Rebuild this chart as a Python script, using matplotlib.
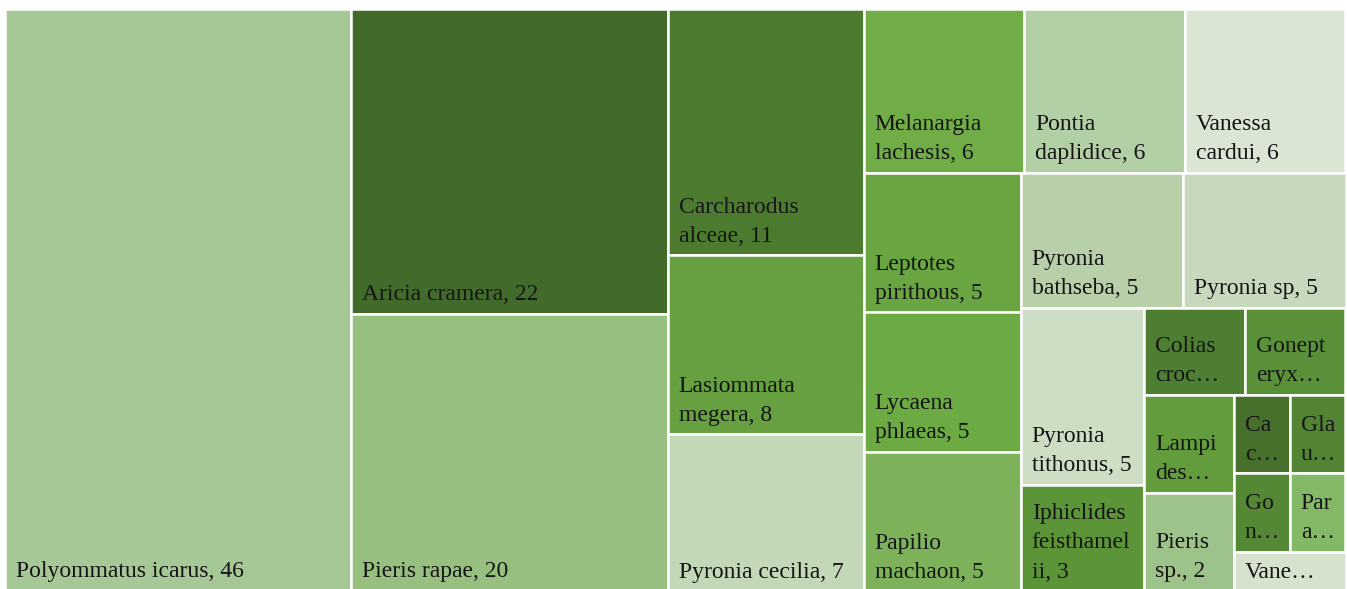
import matplotlib
matplotlib.use('Agg')
import matplotlib.pyplot as plt
from matplotlib.patches import Rectangle

# Виды бабочек и число наблюдений (по убыванию, как в treemap)
species = [
    'Polyommatus icarus', 'Aricia cramera', 'Pieris rapae', 'Carcharodus alceae',
    'Lasiommata megera', 'Pyronia cecilia', 'Melanargia lachesis', 'Pontia daplidice',
    'Vanessa cardui', 'Leptotes pirithous', 'Lycaena phlaeas', 'Papilio machaon',
    'Pyronia bathseba', 'Pyronia sp', 'Pyronia tithonus', 'Iphiclides feisthamelii',
    'Colias croceus', 'Gonepteryx rhamni', 'Lampides boeticus', 'Pieris sp.',
    'Cacyreus marshalli', 'Glaucopsyche alexis', 'Gonepteryx cleopatra',
    'Pararge aegeria', 'Vanessa atalanta',
]
counts = [46, 22, 20, 11, 8, 7, 6, 6, 6, 5, 5, 5, 5, 5, 5, 3, 2, 2, 2, 2, 1, 1, 1, 1, 1]

# Подписи так, как они видны на картинке (перенос / обрезка)
labels = [
    'Polyommatus icarus, 46', 'Aricia cramera, 22', 'Pieris rapae, 20',
    'Carcharodus\nalceae, 11', 'Lasiommata\nmegera, 8', 'Pyronia cecilia, 7',
    'Melanargia\nlachesis, 6', 'Pontia\ndaplidice, 6', 'Vanessa\ncardui, 6',
    'Leptotes\npirithous, 5', 'Lycaena\nphlaeas, 5', 'Papilio\nmachaon, 5',
    'Pyronia\nbathseba, 5', 'Pyronia sp, 5', 'Pyronia\ntithonus, 5',
    'Iphiclides\nfeisthamel\nii, 3', 'Colias\ncroc…', 'Gonept\neryx…',
    'Lampi\ndes…', 'Pieris\nsp., 2', 'Ca\nc…', 'Gla\nu…', 'Go\nn…', 'Par\na…', 'Vane…',
]

colors = [
    '#A6C896', '#426B2B', '#97BF80', '#4C7A2E', '#66A040', '#C3D8B8', '#70AD47',
    '#B3CFA5', '#DAE5D3', '#69A642', '#6CAA44', '#7DB25A', '#B7D0AA', '#C6D9BD',
    '#CDDEC5', '#5C9438', '#4E7E32', '#5A9138', '#629C3C', '#9EC38A', '#46702C',
    '#528434', '#548834', '#83B866', '#D6E2CE',
]


def worst(row, side):
    s = sum(row)
    return max(max(side * side * r / (s * s), s * s / (side * side * r)) for r in row)


def squarify(values, x, y, w, h):
    # классический squarified treemap (Bruls et al.)
    total = sum(values)
    areas = [v * w * h / total for v in values]
    rects = []
    while areas:
        side = min(w, h)
        row = [areas.pop(0)]
        while areas and worst(row + [areas[0]], side) <= worst(row, side):
            row.append(areas.pop(0))
        s = sum(row)
        if w >= h:
            cw = s / h
            yy = y
            for a in row:
                rh = a / cw
                rects.append((x, yy, cw, rh))
                yy += rh
            x += cw
            w -= cw
        else:
            rh = s / w
            xx = x
            for a in row:
                rw = a / rh
                rects.append((xx, y, rw, rh))
                xx += rw
            y += rh
            h -= rh
    return rects


W, H = 1347, 589
fig = plt.figure(figsize=(W / 100, H / 100), dpi=100)
ax = fig.add_axes([0, 0, 1, 1])
ax.set_xlim(0, W)
ax.set_ylim(H, 0)
ax.axis('off')

rects = squarify(counts, 5, 9, 1340.5, 582)

line_h = 29
for (x, y, w, h), lab, col in zip(rects, labels, colors):
    ax.add_patch(Rectangle((x, y), w, h, facecolor=col, edgecolor='white', linewidth=1.8))
    lines = lab.split('\n')
    base = y + h - 13.5
    for i, line in enumerate(reversed(lines)):
        ax.text(x + 11, base - i * line_h, line, fontsize=17, family='Liberation Serif',
                color='#141414', ha='left', va='baseline')

fig.savefig('out.png', dpi=100)
